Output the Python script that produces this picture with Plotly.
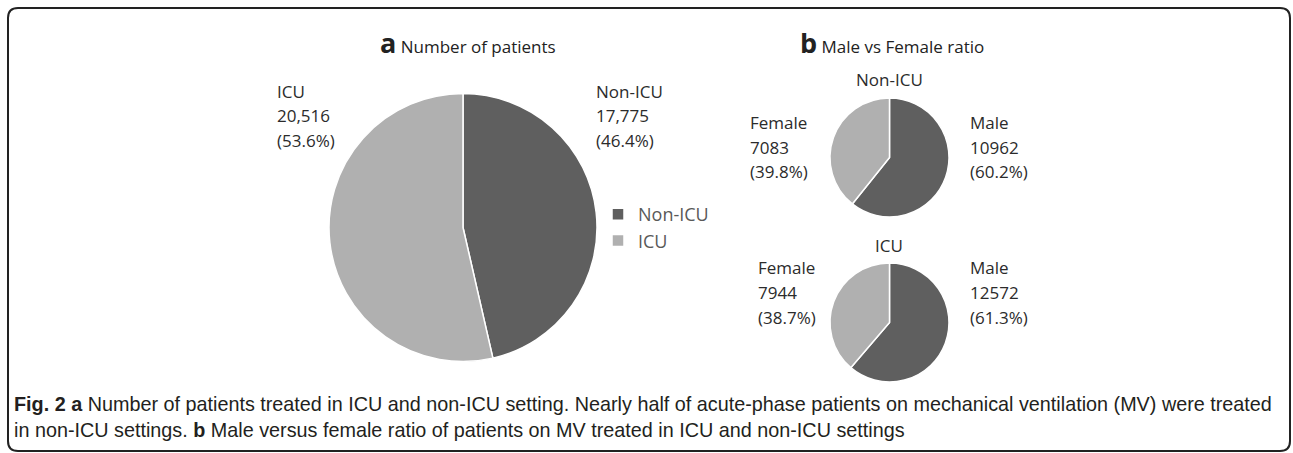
import plotly.graph_objects as go

W, H = 1293, 453

# ── Data ──────────────────────────────────────────────────────────────────────
setting_labels = ["Non-ICU", "ICU"]
setting_counts = [17775, 20516]
setting_pct = ["46.4%", "53.6%"]

sex_labels = ["Male", "Female"]
nonicu_sex_counts = [10962, 7083]
nonicu_sex_pct = ["60.2%", "39.8%"]
icu_sex_counts = [12572, 7944]
icu_sex_pct = ["61.3%", "38.7%"]

DARK = "#5f5f5f"
LIGHT = "#b0b0b0"
LABEL_FONT = "Open Sans, Arial, sans-serif"
CAPTION_FONT = "Liberation Sans Narrow, Arial Narrow, sans-serif"


def px(x):
    return x / W


def py(y):
    return 1 - y / H


def pie_domain(cx, cy, d):
    return dict(x=[px(cx - d / 2), px(cx + d / 2)], y=[py(cy + d / 2), py(cy - d / 2)])


fig = go.Figure()

fig.add_trace(go.Pie(
    labels=setting_labels, values=setting_counts,
    sort=False, direction="clockwise", rotation=0,
    marker=dict(colors=[DARK, LIGHT], line=dict(color="white", width=1.5)),
    textinfo="none", hoverinfo="label+value+percent",
    domain=pie_domain(463, 227.5, 268),
    showlegend=True,
))
for counts, cy in [(nonicu_sex_counts, 157.5), (icu_sex_counts, 322.5)]:
    fig.add_trace(go.Pie(
        labels=sex_labels, values=counts,
        sort=False, direction="clockwise", rotation=0,
        marker=dict(colors=[DARK, LIGHT], line=dict(color="white", width=1.5)),
        textinfo="none", hoverinfo="label+value+percent",
        domain=pie_domain(889.5, cy, 119),
        showlegend=False,
    ))

annotations = []


def add_text(x, y, text, size=17, anchor="left", color="#2b2b2b", family=LABEL_FONT):
    annotations.append(dict(
        x=px(x), y=py(y), xref="paper", yref="paper", text=text,
        showarrow=False, xanchor=anchor, yanchor="middle",
        font=dict(family=family, size=size, color=color),
    ))


def add_label(x, ys, name, count, pct, comma=True):
    lines = [name, f"{count:,}" if comma else str(count), f"({pct})"]
    for y, line in zip(ys, lines):
        add_text(x, y, line)


# big pie labels
big_ys = [91, 115.5, 140]
add_label(275, big_ys, setting_labels[1], setting_counts[1], setting_pct[1])
add_label(594, big_ys, setting_labels[0], setting_counts[0], setting_pct[0])

# small pie labels
ys_top = [122, 147, 172]
add_label(968, ys_top, sex_labels[0], nonicu_sex_counts[0], nonicu_sex_pct[0], comma=False)
add_label(748, ys_top, sex_labels[1], nonicu_sex_counts[1], nonicu_sex_pct[1], comma=False)
ys_bot = [267, 292, 317]
add_label(968, ys_bot, sex_labels[0], icu_sex_counts[0], icu_sex_pct[0], comma=False)
add_label(756, ys_bot, sex_labels[1], icu_sex_counts[1], icu_sex_pct[1], comma=False)

add_text(889.5, 79, setting_labels[0], anchor="center")
add_text(889.5, 245, setting_labels[1], anchor="center")

# panel titles
add_text(468, 42, "<b><span style='font-size:27px'>a</span></b> Number of patients",
         size=17, anchor="center", color="#222")
add_text(892, 42, "<b><span style='font-size:27px'>b</span></b> Male vs Female ratio",
         size=17, anchor="center", color="#222")

# caption
add_text(12, 404,
         "<b>Fig. 2 a</b> Number of patients treated in ICU and non-ICU setting. Nearly half of "
         "acute-phase patients on mechanical ventilation (MV) were treated",
         size=19.8, color="#231f20", family=CAPTION_FONT)
add_text(12, 430,
         "in non-ICU settings. <b>b</b> Male versus female ratio of patients on MV treated in ICU "
         "and non-ICU settings",
         size=19.8, color="#231f20", family=CAPTION_FONT)

# rounded frame around the whole figure
x0, x1, y0, y1, r = px(8), px(1290), py(451), py(8), 10
rx, ry = r / W, r / H
frame = (f"M{x0 + rx},{y1} L{x1 - rx},{y1} Q{x1},{y1} {x1},{y1 - ry} "
         f"L{x1},{y0 + ry} Q{x1},{y0} {x1 - rx},{y0} "
         f"L{x0 + rx},{y0} Q{x0},{y0} {x0},{y0 + ry} "
         f"L{x0},{y1 - ry} Q{x0},{y1} {x0 + rx},{y1} Z")

fig.update_layout(
    width=W, height=H,
    margin=dict(l=0, r=0, t=0, b=0),
    paper_bgcolor="white", plot_bgcolor="white",
    annotations=annotations,
    shapes=[dict(type="path", path=frame, xref="paper", yref="paper",
                 line=dict(color="#222", width=2))],
    legend=dict(x=px(598), y=py(227.5), xanchor="left", yanchor="middle",
                font=dict(family=LABEL_FONT, size=18, color="#595959"),
                bgcolor="rgba(0,0,0,0)", traceorder="normal"),
)

fig.write_html("out.html", config={"displayModeBar": False},
               post_script="document.body.style.margin='0';document.body.style.overflow='hidden';")
